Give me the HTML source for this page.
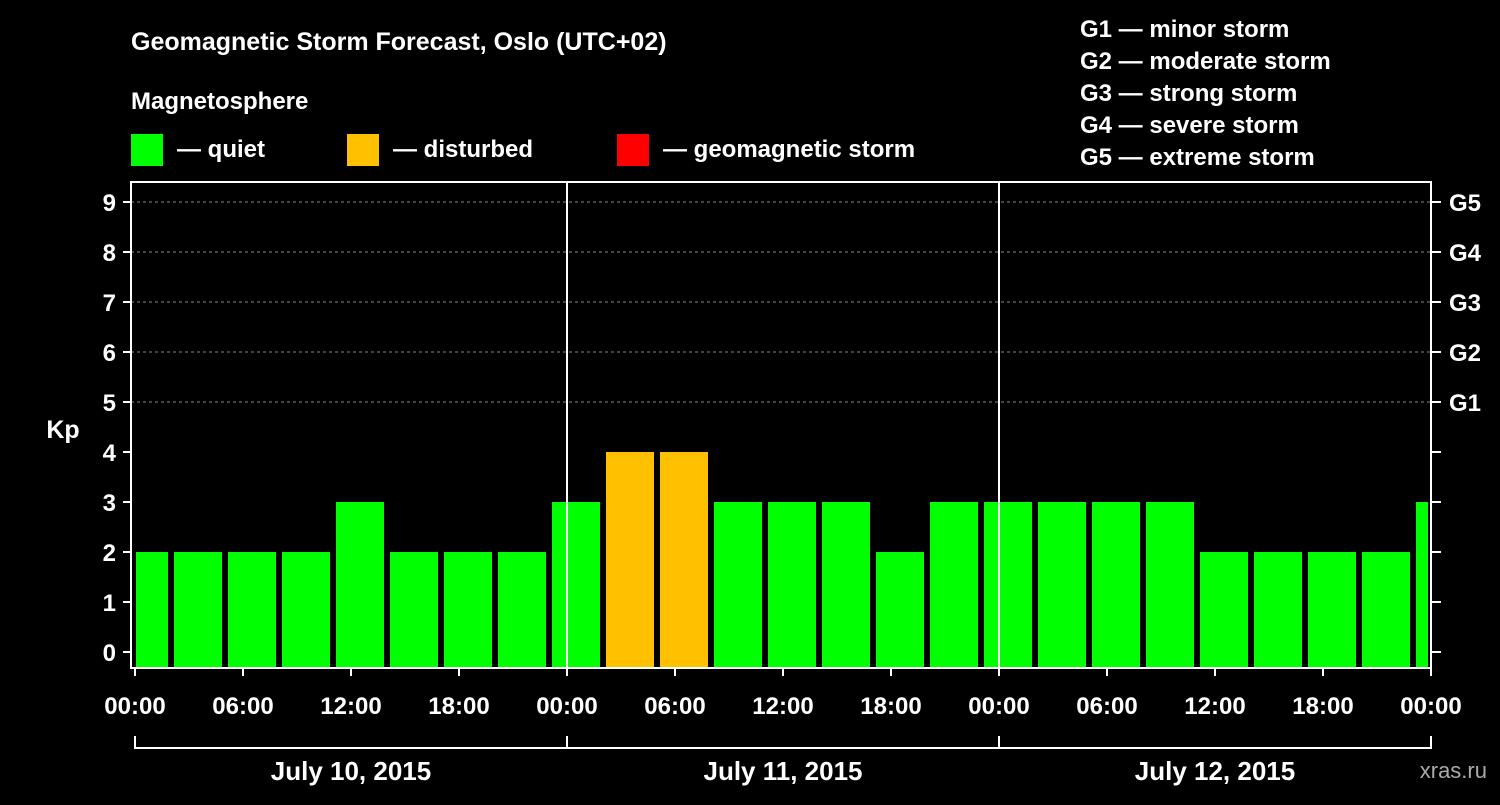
<!DOCTYPE html>
<html><head><meta charset="utf-8"><style>
html,body{margin:0;padding:0;background:#000;}
svg text{font-family:"Liberation Sans",sans-serif;font-weight:bold;fill:#fff;}
</style></head><body>
<svg width="1500" height="800" viewBox="0 0 1500 800">
<rect width="1500" height="800" fill="#000"/>
<text x="131" y="50" font-size="25">Geomagnetic Storm Forecast, Oslo (UTC+02)</text>
<text x="131" y="109" font-size="24">Magnetosphere</text>
<g><rect x="131" y="134" width="32" height="32" fill="#00ff00"/><text x="177" y="157" font-size="24">— quiet</text></g>
<g><rect x="347" y="134" width="32" height="32" fill="#ffc000"/><text x="393" y="157" font-size="24">— disturbed</text></g>
<g><rect x="617" y="134" width="32" height="32" fill="#ff0000"/><text x="663" y="157" font-size="24">— geomagnetic storm</text></g>
<g font-size="24">
<text x="1080" y="37" font-size="24">G1 — minor storm</text>
<text x="1080" y="69" font-size="24">G2 — moderate storm</text>
<text x="1080" y="101" font-size="24">G3 — strong storm</text>
<text x="1080" y="133" font-size="24">G4 — severe storm</text>
<text x="1080" y="165" font-size="24">G5 — extreme storm</text>
</g>
<g id="grid"></g>
<g id="bars"></g>
<g id="axes"></g>
<text x="63" y="438" font-size="25" text-anchor="middle">Kp</text>
<text x="1487" y="778" font-size="22" text-anchor="end" fill="#aaa" style="fill:#aaa;font-weight:normal">xras.ru</text>
</svg>
<script>
const kpValues=[2,2,2,2,3,2,2,2,3,4,4,3,3,3,2,3,3,3,3,3,2,2,2,2,3];
const yTicks=[0,1,2,3,4,5,6,7,8,9];
const gLabels=["G1","G2","G3","G4","G5"];
const xTickLabels=["00:00","06:00","12:00","18:00","00:00","06:00","12:00","18:00","00:00","06:00","12:00","18:00","00:00"];
const dayLabels=["July 10, 2015","July 11, 2015","July 12, 2015"];
const NS="http://www.w3.org/2000/svg";
const L=135,R=1431,T=182,B=668;
const xs=h=>L+h*(R-L)/72;
const ys=v=>652-v*50;
function mk(tag,attrs,parent,txt){const e=document.createElementNS(NS,tag);for(const k in attrs)e.setAttribute(k,attrs[k]);if(txt!==undefined)e.textContent=txt;document.getElementById(parent).appendChild(e);return e;}
// grid
for(let v=5;v<=9;v++){const g=mk('line',{x1:131,x2:R,y1:ys(v),y2:ys(v),stroke:'#888','stroke-dasharray':'3,3','stroke-width':1},'grid');

}
// bars
kpValues.forEach((v,i)=>{let h0=-1+3*i,h1=h0+3;let x0=Math.max(xs(h0)+3,L+1),x1=Math.min(xs(h1)-3,R-3);
const c=v>=5?'#ff0000':(v>=4?'#ffc000':'#00ff00');
const r=mk('rect',{x:x0,y:ys(v),width:x1-x0,height:B-ys(v),fill:c},'bars');

});
// frame
const f=mk('rect',{x:131,y:T,width:R-131,height:B-T,fill:'none',stroke:'#fff','stroke-width':2},'axes');


[24,48].forEach(h=>{const d=mk('line',{x1:xs(h),x2:xs(h),y1:T,y2:B,stroke:'#fff','stroke-width':2},'axes');

});
yTicks.forEach(v=>{mk('line',{x1:123,x2:131,y1:ys(v),y2:ys(v),stroke:'#fff','stroke-width':2},'axes');
mk('line',{x1:R,x2:R+10,y1:ys(v),y2:ys(v),stroke:'#fff','stroke-width':2},'axes');
const t=mk('text',{x:116,y:ys(v)+9,'font-size':24,'text-anchor':'end'},'axes',v);

});
gLabels.forEach((g,i)=>{const t=mk('text',{x:1449,y:ys(5+i)+9,'font-size':24},'axes',g);

});
xTickLabels.forEach((s,i)=>{const x=xs(i*6);mk('line',{x1:x,x2:x,y1:B,y2:B+8,stroke:'#fff','stroke-width':2},'axes');
const t=mk('text',{x:x,y:714,'font-size':24,'text-anchor':'middle'},'axes',s);

});
const br=mk('line',{x1:L,x2:R,y1:748,y2:748,stroke:'#fff','stroke-width':2},'axes');


[0,24,48,72].forEach(h=>mk('line',{x1:xs(h),x2:xs(h),y1:736,y2:749,stroke:'#fff','stroke-width':2},'axes'));
dayLabels.forEach((s,i)=>{const t=mk('text',{x:xs(i*24+12),y:780,'font-size':26,'text-anchor':'middle'},'axes',s);

});
</script>
</body></html>
